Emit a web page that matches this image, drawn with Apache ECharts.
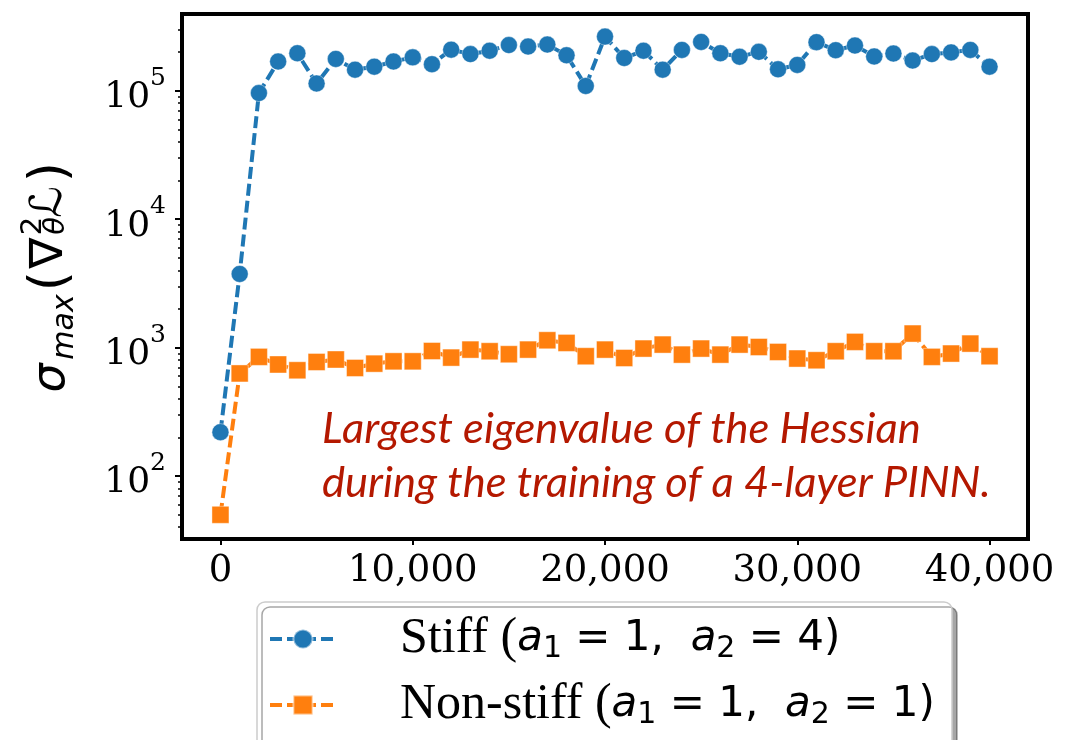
<!DOCTYPE html>
<html>
<head>
<meta charset="utf-8">
<script src="https://cdn.jsdelivr.net/npm/echarts@6/dist/echarts.min.js"></script>
<style>
  html, body { margin: 0; padding: 0; background: #fff; }
  #chart { width: 1088px; height: 740px; }
</style>
</head>
<body>
<div id="chart"></div>
<script>
// Training iterations at which the Hessian spectrum was sampled
const steps = [0, 1000, 2000, 3000, 4000, 5000, 6000, 7000, 8000, 9000,
  10000, 11000, 12000, 13000, 14000, 15000, 16000, 17000, 18000, 19000,
  20000, 21000, 22000, 23000, 24000, 25000, 26000, 27000, 28000, 29000,
  30000, 31000, 32000, 33000, 34000, 35000, 36000, 37000, 38000, 39000, 40000];

// Largest Hessian eigenvalue, stiff problem (a1 = 1, a2 = 4)
const stiff = [220, 3750, 96000, 169000, 196000, 114000, 177000, 146000, 154000, 169000,
  182000, 161000, 209000, 193000, 205000, 227000, 221000, 229000, 189000, 109000,
  264000, 180000, 205000, 146000, 208000, 240000, 196000, 184000, 201000, 147000,
  159000, 239000, 207000, 225000, 185000, 195000, 172000, 193000, 199000, 208000, 154000];

// Largest Hessian eigenvalue, non-stiff problem (a1 = 1, a2 = 1)
const nonStiff = [50, 630, 848, 740, 667, 774, 809, 695, 751, 783,
  783, 942, 837, 966, 938, 889, 966, 1142, 1089, 858,
  966, 831, 984, 1057, 883, 984, 883, 1057, 1012, 926,
  823, 798, 938, 1109, 938, 938, 1288, 848, 900, 1076, 858];

const xTicks = [0, 10000, 20000, 30000, 40000];
const yMajor = [100, 1000, 10000, 100000];
const yMinor = [40, 50, 60, 70, 80, 90,
  200, 300, 400, 500, 600, 700, 800, 900,
  2000, 3000, 4000, 5000, 6000, 7000, 8000, 9000,
  20000, 30000, 40000, 50000, 60000, 70000, 80000, 90000,
  200000, 300000];

const seriesNames = ['Stiff', 'Non-stiff'];
const legendA2 = { 'Stiff': '4', 'Non-stiff': '1' };

const BLUE = '#1f77b4';
const ORANGE = '#ff7f0e';
const SERIF = '"DejaVu Serif", serif';
const SANS = '"DejaVu Sans", sans-serif';

const chart = echarts.init(document.getElementById('chart'), null, { renderer: 'canvas' });

const yCommon = {
  type: 'log',
  logBase: 10,
  min: 32.4,
  max: 396000,
  position: 'left',
  splitLine: { show: false }
};

// One legend block per series, stacked inside a shared framed box
const legendRich = {
  sp: { width: 59, lineHeight: 50 },
  r: { fontFamily: '"Liberation Serif", serif', fontSize: 50, color: '#000', lineHeight: 50 },
  m: { fontFamily: SANS, fontStyle: 'italic', fontSize: 42, color: '#000', lineHeight: 50 },
  s: { fontFamily: SANS, fontSize: 30, color: '#000', lineHeight: 10, verticalAlign: 'bottom' },
  r2: { fontFamily: SANS, fontSize: 42, color: '#000', lineHeight: 50 }
};
function makeLegend(name, top) {
  return {
    data: [name],
    orient: 'vertical',
    left: 268,
    top: top,
    padding: 0,
    itemWidth: 66,
    itemHeight: 24,
    lineStyle: { width: 4 },
    formatter: n => '{sp| }{r|' + n + ' (}{m|a}{s|1}{r2| = 1,  }{m|a}{s|2}{r2| = ' + legendA2[n] + ')}',
    textStyle: { color: '#000', rich: legendRich }
  };
}

const option = {
  animation: false,
  backgroundColor: '#ffffff',
  grid: {
    left: 182, right: 60, top: 14, bottom: 201,
    show: true, borderColor: '#000', borderWidth: 4, backgroundColor: 'transparent'
  },
  xAxis: {
    type: 'value',
    min: -2000,
    max: 42000,
    axisLine: { show: true, onZero: false, lineStyle: { color: '#000', width: 4 } },
    axisTick: { show: true, length: 6, lineStyle: { color: '#000', width: 2 }, customValues: xTicks },
    axisLabel: {
      customValues: xTicks,
      margin: 14,
      fontFamily: SERIF,
      fontSize: 37,
      color: '#000',
      formatter: v => v.toLocaleString('en-US')
    },
    splitLine: { show: false }
  },
  yAxis: [
    Object.assign({}, yCommon, {
      axisLine: { show: true, onZero: false, lineStyle: { color: '#000', width: 4 } },
      axisTick: { show: true, length: 7, lineStyle: { color: '#000', width: 2 }, customValues: yMajor },
      axisLabel: {
        customValues: yMajor,
        margin: 16,
        color: '#000',
        formatter: v => '{b|10}{e|' + Math.round(Math.log10(v)) + '}',
        rich: {
          b: { fontFamily: SERIF, fontSize: 36, color: '#000', padding: [14, 0, 0, 0] },
          e: { fontFamily: SERIF, fontSize: 25, color: '#000', verticalAlign: 'top' }
        }
      }
    }),
    Object.assign({}, yCommon, {
      axisLine: { show: false, onZero: false },
      axisTick: { show: true, length: 4, lineStyle: { color: '#000', width: 1.5 }, customValues: yMinor },
      axisLabel: { show: false }
    })
  ],
  legend: [makeLegend('Stiff', 614), makeLegend('Non-stiff', 680)],
  series: [
    {
      name: 'Stiff',
      type: 'line',
      yAxisIndex: 0,
      data: steps.map((s, i) => [s, stiff[i]]),
      symbol: 'circle',
      symbolSize: 17,
      lineStyle: { color: BLUE, width: 4, type: [12, 5] },
      itemStyle: { color: BLUE, borderColor: 'rgba(255,255,255,0.5)', borderWidth: 0.8 },
      z: 2
    },
    {
      name: 'Non-stiff',
      type: 'line',
      yAxisIndex: 0,
      data: steps.map((s, i) => [s, nonStiff[i]]),
      symbol: 'rect',
      symbolSize: 17,
      lineStyle: { color: ORANGE, width: 4, type: [12, 5] },
      itemStyle: { color: ORANGE, borderColor: 'rgba(255,255,255,0.5)', borderWidth: 0.8 },
      z: 3
    }
  ],
  graphic: [
    // legend frame with a drop shadow
    {
      type: 'rect',
      shape: { x: 257, y: 602, width: 695, height: 170, r: 8 },
      style: {
        fill: '#ffffff', stroke: '#cccccc', lineWidth: 1.5,
        shadowColor: 'rgba(0,0,0,0.35)', shadowOffsetX: 5, shadowOffsetY: 5, shadowBlur: 0
      },
      z: 0
    },
    {
      type: 'text',
      left: 322,
      top: 402,
      style: {
        text: 'Largest eigenvalue of the Hessian\nduring the training of a 4-layer PINN.',
        fontFamily: 'Lato, sans-serif',
        fontStyle: 'italic',
        fontSize: 43.5,
        lineHeight: 54,
        fill: '#b41800'
      }
    },
    // y-axis title: sigma_max( nabla^2_theta L ), read bottom to top
    { type: 'text', x: 52, y: 378, rotation: Math.PI / 2, style: { text: 'σ', fontFamily: SANS, fontStyle: 'italic', fontSize: 46, fill: '#000', align: 'center', verticalAlign: 'middle' } },
    { type: 'text', x: 65, y: 327, rotation: Math.PI / 2, style: { text: 'max', fontFamily: SANS, fontStyle: 'italic', fontSize: 30, fill: '#000', align: 'center', verticalAlign: 'middle' } },
    { type: 'text', x: 51, y: 281, rotation: Math.PI / 2, style: { text: '(', fontFamily: SANS, fontSize: 52, fill: '#000', align: 'center', verticalAlign: 'middle' } },
    { type: 'text', x: 50, y: 253, rotation: Math.PI / 2, style: { text: '∇', fontFamily: SANS, fontSize: 46, fill: '#000', align: 'center', verticalAlign: 'middle' } },
    { type: 'text', x: 33, y: 226, rotation: Math.PI / 2, style: { text: '2', fontFamily: SANS, fontSize: 29, fill: '#000', align: 'center', verticalAlign: 'middle' } },
    { type: 'text', x: 56, y: 226, rotation: Math.PI / 2, style: { text: 'θ', fontFamily: SANS, fontStyle: 'italic', fontSize: 29, fill: '#000', align: 'center', verticalAlign: 'middle' } },
    { type: 'text', x: 50, y: 202, rotation: Math.PI / 2, style: { text: 'ℒ', fontFamily: SANS, fontSize: 44, fill: '#000', align: 'center', verticalAlign: 'middle' } },
    { type: 'text', x: 51, y: 172, rotation: Math.PI / 2, style: { text: ')', fontFamily: SANS, fontSize: 52, fill: '#000', align: 'center', verticalAlign: 'middle' } }
  ]
};

chart.setOption(option);
</script>
</body>
</html>
